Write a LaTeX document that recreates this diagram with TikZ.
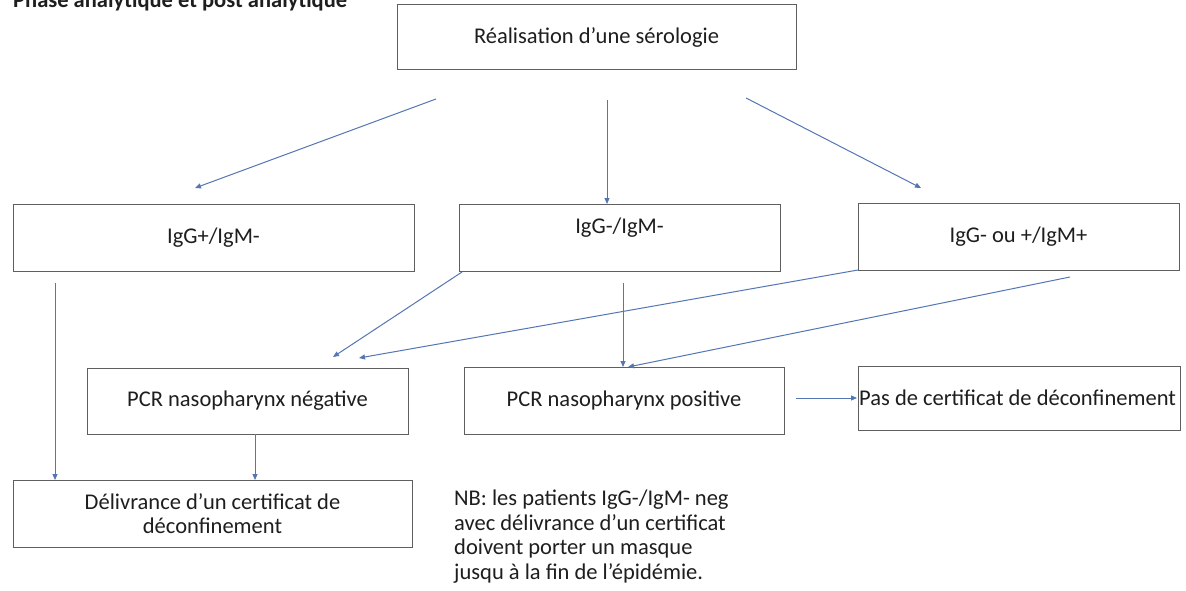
\documentclass[tikz,border=0pt]{standalone}
\usepackage{fontspec}
\setmainfont{Carlito}
\usetikzlibrary{arrows.meta}
\definecolor{arr}{RGB}{84,118,180}
\definecolor{boxc}{RGB}{95,95,95}
\definecolor{txt}{RGB}{30,30,30}
\tikzset{
  lbl/.style={text=txt, font=\fontsize{22.5}{24.5}\selectfont},
  box/.style={lbl, draw=boxc, line width=1pt, inner sep=0pt, align=center},
  conn/.style={draw=arr, line width=1pt, -{Triangle[length=6pt,width=5pt]}}
}
\begin{document}
\begin{tikzpicture}[x=1pt,y=-1pt]
\useasboundingbox (0,0) rectangle (1186,591);
\fill[white] (0,0) rectangle (1186,591);
\clip (0,0) rectangle (1186,591);

\node[anchor=base west, text=txt, font=\bfseries\fontsize{22.5}{24}\selectfont, inner sep=0pt] (title) at (13,8) {Phase analytique et post analytique};

\node[box, minimum width=399pt, minimum height=65pt] (top) at (596.5,37.5) {Réalisation d’une sérologie};
\node[box, minimum width=401pt, minimum height=67pt] (igp) at (213.5,237.5) {IgG+/IgM-};
\node[box, minimum width=321pt, minimum height=67pt] (ign) at (619.5,237.5) {};
\node[lbl] (igntxt) at (619.5,228) {IgG-/IgM-};
\node[box, minimum width=321pt, minimum height=67pt] (igm) at (1018.5,236.5) {IgG- ou +/IgM+};
\node[box, minimum width=321pt, minimum height=66pt] (neg) at (247.5,401) {PCR nasopharynx négative};
\node[box, minimum width=320pt, minimum height=67pt] (pos) at (624,400.5) {PCR nasopharynx positive};
\node[box, minimum width=322pt, minimum height=64pt] (pas) at (1019,398) {};
\node[lbl, anchor=west, inner sep=0pt] (pastxt) at (859,398) {Pas de certificat de déconfinement};
\node[box, minimum width=399pt, minimum height=67pt] (deliv) at (212.5,513.5) {Délivrance d’un certificat de\\déconfinement};

\node[lbl, anchor=north west, align=left, inner sep=0pt] (nb) at (454,490)
{NB: les patients IgG-/IgM- neg\\avec délivrance d’un certificat\\doivent porter un masque\\jusqu à la fin de l’épidémie.};

% connector endpoints
\coordinate (t1) at (436,99);   \coordinate (e1) at (195,188);
\coordinate (t2) at (607,100);  \coordinate (e2) at (607,204);
\coordinate (t3) at (746,98);   \coordinate (e3) at (921,188);
\coordinate (p1) at (55,283);   \coordinate (d1) at (55,480);
\coordinate (n1) at (462,272);  \coordinate (q1) at (333,357);
\coordinate (m1) at (858,270);  \coordinate (q2) at (359,358);
\coordinate (n2) at (623,283);  \coordinate (r1) at (623,367);
\coordinate (m2) at (1070,277); \coordinate (r2) at (628,367);
\coordinate (g1) at (255,434);  \coordinate (d2) at (255,480);
\coordinate (s1) at (796,398);  \coordinate (s2) at (857,398);

\draw[conn] (t1) -- (e1);
\draw[conn] (t2) -- (e2);
\draw[conn] (t3) -- (e3);
\draw[conn] (p1) -- (d1);
\draw[conn] (n1) -- (q1);
\draw[conn] (m1) -- (q2);
\draw[conn] (n2) -- (r1);
\draw[conn] (m2) -- (r2);
\draw[conn] (g1) -- (d2);
\draw[conn] (s1) -- (s2);
\end{tikzpicture}
\end{document}
